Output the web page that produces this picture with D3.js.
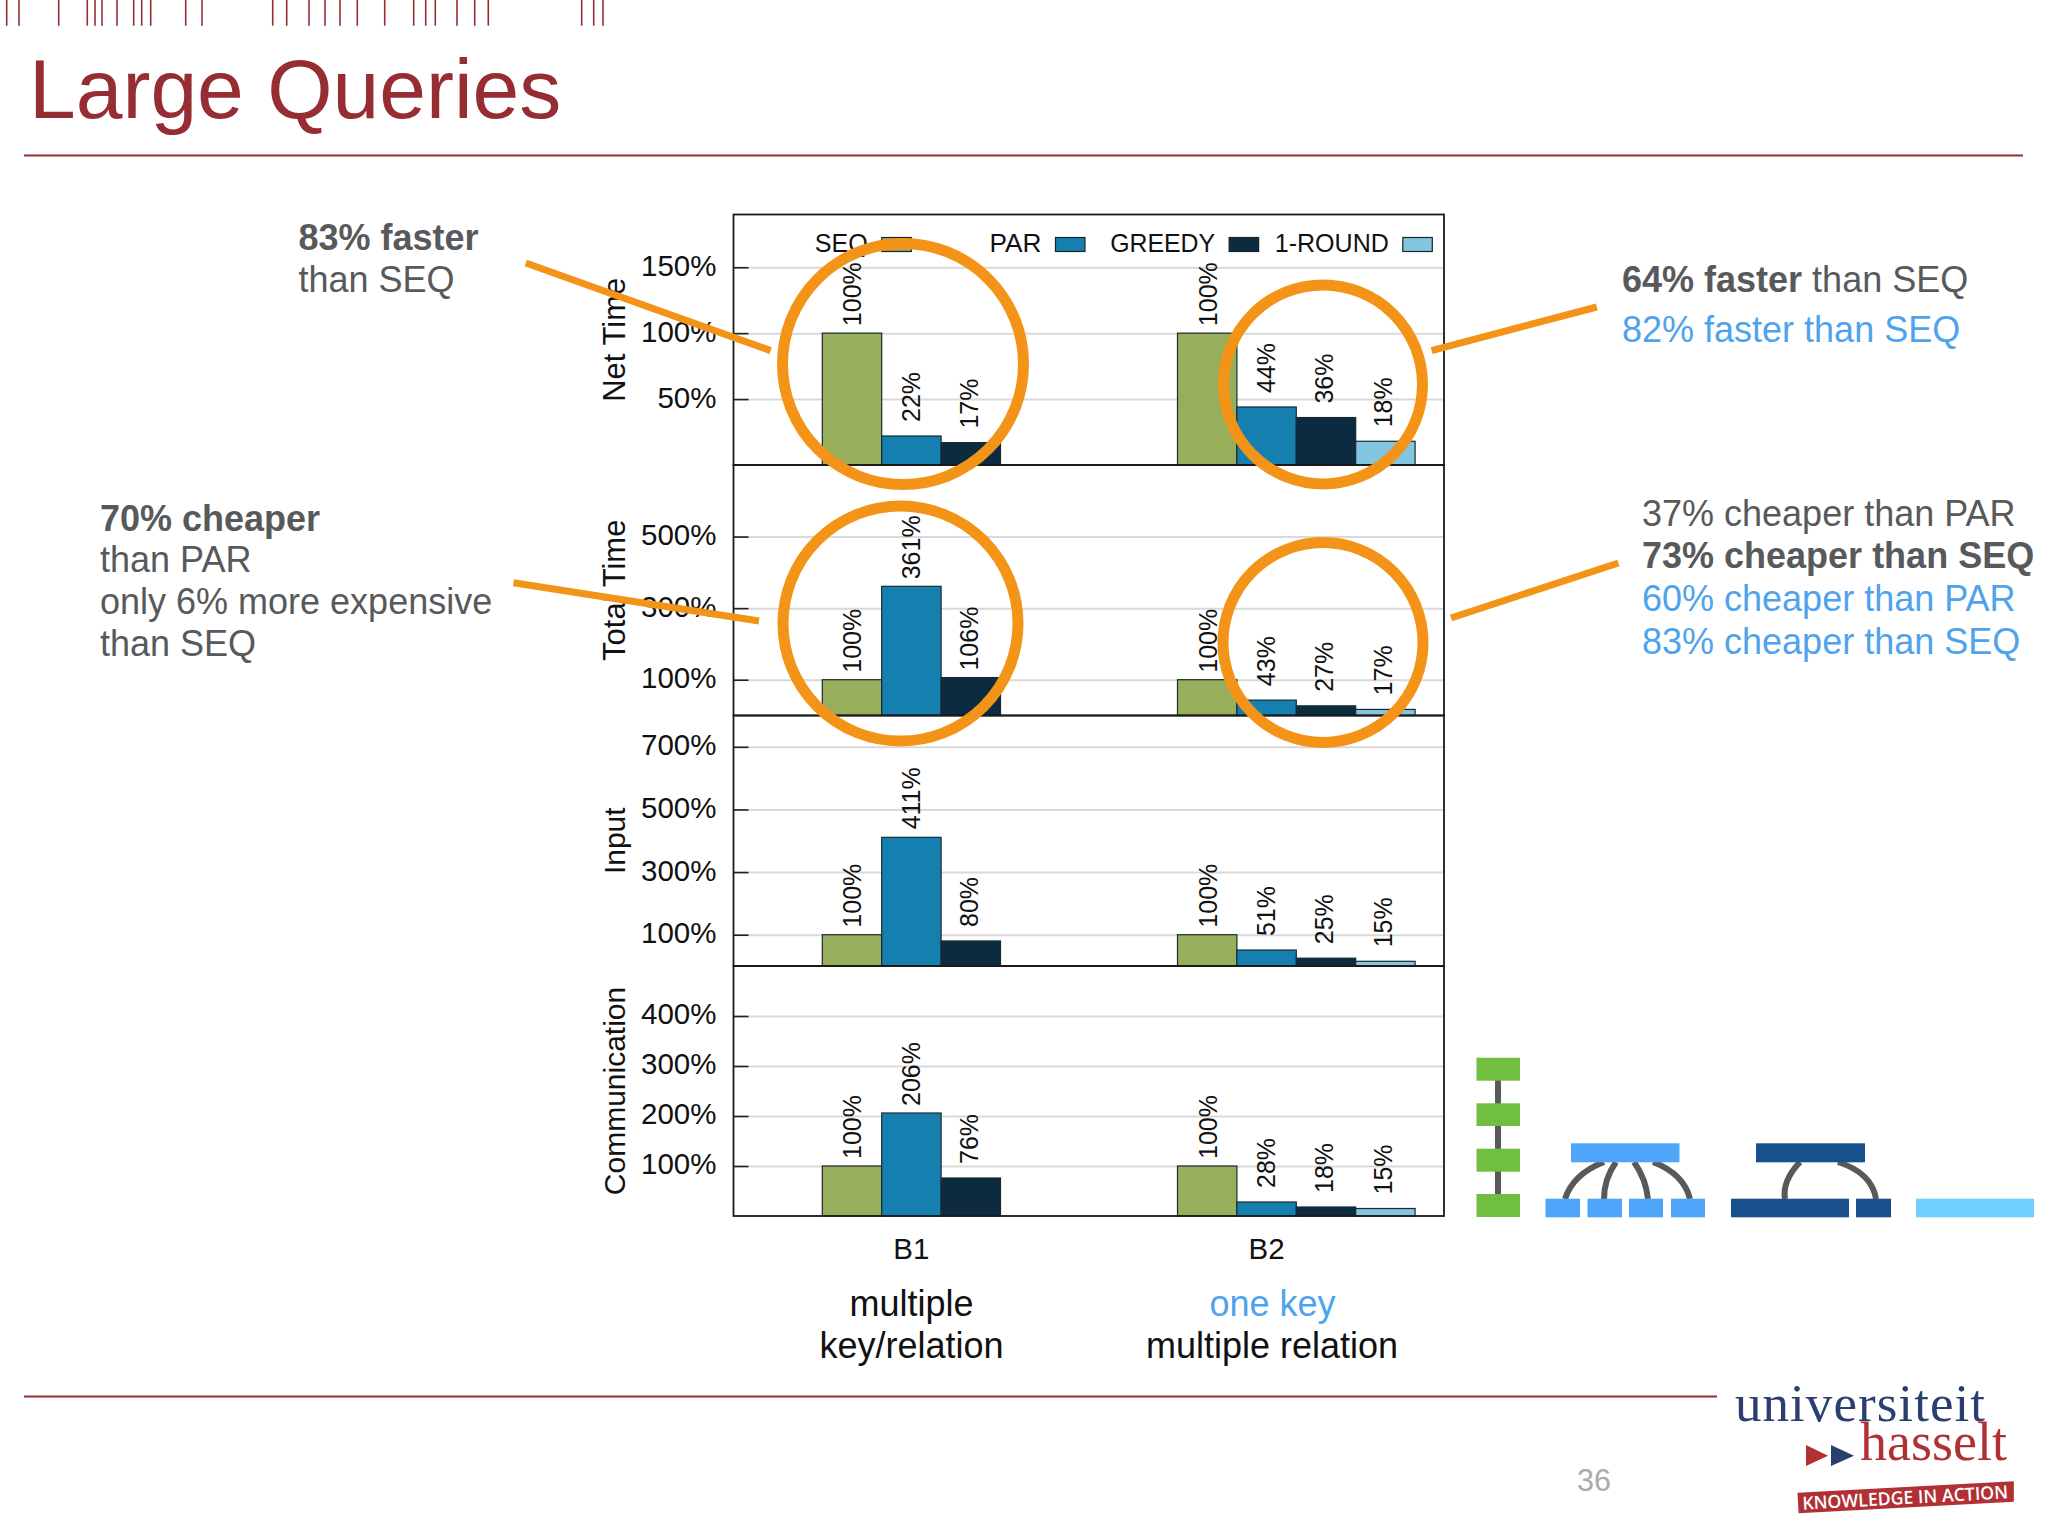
<!DOCTYPE html>
<html><head><meta charset="utf-8">
<script src="https://cdn.jsdelivr.net/npm/d3@7/dist/d3.min.js"></script>
<style>html,body{margin:0;padding:0;background:#fff}svg{display:block}text{font-family:"Liberation Sans",Arial,sans-serif}</style>
</head><body>
<script>
const groups = ["B1","B2"];
const seriesNames = ["SEQ","PAR","GREEDY","1-ROUND"];
const seriesColors = ["#97AE5A","#1580B0","#0C2B40","#84C5E0"];
const panelNames = ["Net Time","Total Time","Input","Communication"];
const panelTitleSizes = [31,31,30,30];
const panelMax = [190,700,800,500];
const panelTicks = [[50,100,150],[100,300,500],[100,300,500,700],[100,200,300,400]];
const netTimeB1 = [100,22,17,null];
const netTimeB2 = [100,44,36,18];
const totalTimeB1 = [100,361,106,null];
const totalTimeB2 = [100,43,27,17];
const inputB1 = [100,411,80,null];
const inputB2 = [100,51,25,15];
const commB1 = [100,206,76,null];
const commB2 = [100,28,18,15];
const panelValues = [[netTimeB1,netTimeB2],[totalTimeB1,totalTimeB2],[inputB1,inputB2],[commB1,commB2]];
const barcodeTicks = [6.7,19,58.7,87.3,95,102,117,133.7,141.7,150.7,185.7,202,272.7,286.7,309,325,340,357.3,384.7,413.7,425.7,435.3,457,474.7,488.3,581.7,593.7,603];

const RED="#962D32", GRAY="#58595B", BLUE="#4FA3EC", ORANGE="#F39419";
const svg=d3.select("body").append("svg").attr("width",2048).attr("height",1536);
svg.append("rect").attr("width",2048).attr("height",1536).attr("fill","#fff");

// header
svg.selectAll(".bc").data(barcodeTicks).join("line").attr("x1",d=>d).attr("x2",d=>d).attr("y1",0).attr("y2",25.7).attr("stroke",RED).attr("stroke-width",1.6);
svg.append("text").text("Large Queries").attr("x",29).attr("y",118).attr("font-size",84).attr("fill",RED);
svg.append("line").attr("x1",24).attr("x2",2023).attr("y1",155.5).attr("y2",155.5).attr("stroke",RED).attr("stroke-width",2);
svg.append("line").attr("x1",24).attr("x2",1717).attr("y1",1396.5).attr("y2",1396.5).attr("stroke",RED).attr("stroke-width",2);

// chart
const left=733.5,right=1444;
const edges=[214.5,465,715.5,966,1216];
const groupX=d3.scalePoint().domain(groups).range([822.3,1177.5]);
const barX=d3.scaleBand().domain(seriesNames).range([0,237.6]);
const labelX=d3.scalePoint().domain(seriesNames).range([30,205.2]);
const color=d3.scaleOrdinal(seriesNames,seriesColors);

panelNames.forEach((name,p)=>{
  const y=d3.scaleLinear().domain([0,panelMax[p]]).range([edges[p+1],edges[p]]);
  const g=svg.append("g");
  const grid=g.append("g").attr("transform",`translate(${left},0)`)
    .call(d3.axisLeft(y).tickValues(panelTicks[p]).tickSize(-(right-left)).tickFormat(""));
  grid.select(".domain").remove();
  grid.selectAll("line").attr("stroke","#D9D9D9").attr("stroke-width",2);
  groups.forEach((gr,gi)=>{
    const rows=seriesNames.map((s,i)=>({s,v:panelValues[p][gi][i]})).filter(d=>d.v!==null);
    g.selectAll(null).data(rows).join("rect")
      .attr("x",d=>groupX(gr)+barX(d.s)).attr("width",barX.bandwidth())
      .attr("y",d=>y(d.v)).attr("height",d=>y(0)-y(d.v))
      .attr("fill",d=>color(d.s)).attr("stroke","#1a2a30").attr("stroke-width",1.2);
    g.selectAll(null).data(rows).join("text")
      .text(d=>d.v+"%")
      .attr("transform",d=>`translate(${groupX(gr)+labelX(d.s)},${y(d.v)-39}) rotate(-90)`)
      .attr("text-anchor","middle").attr("dominant-baseline","central")
      .attr("font-size",25).attr("fill","#111");
  });
  const ax=g.append("g").attr("transform",`translate(${left},0)`)
    .call(d3.axisLeft(y).tickValues(panelTicks[p]).tickSize(-15).tickPadding(17).tickFormat(d=>d+"%"));
  ax.select(".domain").remove();
  ax.selectAll("line").attr("stroke","#222").attr("stroke-width",1.6);
  ax.selectAll("text").attr("font-size",29.5).attr("fill","#111").attr("y",-1.5).attr("font-family","Liberation Sans");
  g.append("rect").attr("x",left).attr("y",edges[p]).attr("width",right-left).attr("height",edges[p+1]-edges[p])
    .attr("fill","none").attr("stroke","#1a1a1a").attr("stroke-width",1.8);
  g.append("text").text(name).attr("transform",`translate(614,${(edges[p]+edges[p+1])/2}) rotate(-90)`)
    .attr("text-anchor","middle").attr("dominant-baseline","central").attr("font-size",panelTitleSizes[p]).attr("fill","#111");
});

// legend
const legendX=d3.scalePoint().domain(seriesNames).range([881.8,1402.8]);
const legendLen={"SEQ":53,"PAR":52,"GREEDY":105,"1-ROUND":114};
seriesNames.forEach(s=>{
  svg.append("rect").attr("x",legendX(s)).attr("y",237.5).attr("width",29.5).attr("height",14)
    .attr("fill",color(s)).attr("stroke","#222").attr("stroke-width",1.2);
  svg.append("text").text(s).attr("x",legendX(s)-14).attr("y",252).attr("text-anchor","end")
    .attr("font-size",26).attr("fill","#111").attr("textLength",legendLen[s]).attr("lengthAdjust","spacingAndGlyphs");
});

// x labels
groups.forEach(g=>{
  svg.append("text").text(g).attr("x",groupX(g)+barX.bandwidth()*1.5).attr("y",1258.5).attr("text-anchor","middle").attr("font-size",29.5).attr("fill","#111");
});
const caption=(t,x,y,fill)=>svg.append("text").text(t).attr("x",x).attr("y",y).attr("text-anchor","middle").attr("font-size",36).attr("fill",fill);
caption("multiple",911.5,1316,"#111");
caption("key/relation",911.5,1358,"#111");
caption("one key",1272.5,1316,BLUE);
caption("multiple relation",1272,1358,"#111");

// notes
const note=(t,x,y,fill,bold)=>svg.append("text").text(t).attr("x",x).attr("y",y).attr("font-size",36).attr("fill",fill).attr("font-weight",bold?700:400);
note("83% faster",298.5,250,GRAY,true);
note("than SEQ",298.5,291.5,GRAY);
note("70% cheaper",100,531,GRAY,true);
note("than PAR",100,572,GRAY);
note("only 6% more expensive",100,614,GRAY);
note("than SEQ",100,656,GRAY);
const t64=svg.append("text").attr("x",1622).attr("y",291.5).attr("font-size",36).attr("fill",GRAY);
t64.append("tspan").text("64% faster").attr("font-weight",700);
t64.append("tspan").text(" than SEQ");
note("82% faster than SEQ",1622,341.5,BLUE);
note("37% cheaper than PAR",1642,525.5,GRAY);
note("73% cheaper than SEQ",1642,568,GRAY,true);
note("60% cheaper than PAR",1642,611,BLUE);
note("83% cheaper than SEQ",1642,654,BLUE);

// orange highlights
[[903,364,120.5],[900.5,623.5,117.5],[1323,384.4,99.5],[1323,642.5,100]].forEach(c=>
  svg.append("circle").attr("cx",c[0]).attr("cy",c[1]).attr("r",c[2]).attr("fill","none").attr("stroke",ORANGE).attr("stroke-width",11));
[[525.8,263,770.7,350.6],[513.4,582.8,759,621],[1431.6,350.6,1596.8,307],[1451,618,1618.4,563]].forEach(l=>
  svg.append("line").attr("x1",l[0]).attr("y1",l[1]).attr("x2",l[2]).attr("y2",l[3]).attr("stroke",ORANGE).attr("stroke-width",7));

// query shapes
const box=(x0,x1,y0,y1,f)=>svg.append("rect").attr("x",x0).attr("y",y0).attr("width",x1-x0).attr("height",y1-y0).attr("fill",f);
const curve=d=>svg.append("path").attr("d",d).attr("fill","none").attr("stroke",GRAY).attr("stroke-width",6);
svg.append("line").attr("x1",1498).attr("x2",1498).attr("y1",1070).attr("y2",1205).attr("stroke",GRAY).attr("stroke-width",6);
[[1057.7,1080.7],[1103.3,1126],[1148.7,1171.7],[1194,1217]].forEach(r=>box(1476.5,1520,r[0],r[1],"#70BF41"));
curve("M1604,1162 Q1573,1174 1565,1199");
curve("M1616,1162 Q1604,1179 1604,1199");
curve("M1634,1162 Q1646,1179 1648,1199");
curve("M1653,1162 Q1684,1174 1690,1199");
const LB="#4EA5F9",DB="#17508B";
box(1571,1679.5,1143.3,1162.3,LB);
[[1545.5,1580],[1587.5,1622],[1629,1663],[1671,1705]].forEach(r=>box(r[0],r[1],1198.7,1217.3,LB));
curve("M1800,1162 Q1782,1181 1785,1199");
curve("M1838,1162 Q1872,1173 1876,1199");
box(1756,1865,1143.3,1162.3,DB);
box(1731,1849,1198.7,1217.3,DB);
box(1856,1891,1198.7,1217.3,DB);
box(1916,2034,1198.7,1217.3,"#6FD0FD");

// page number + logo
svg.append("text").text("36").attr("x",1577).attr("y",1491).attr("font-size",30.5).attr("fill","#ABABAB");
svg.append("text").text("universiteit").attr("x",1735).attr("y",1421).attr("font-size",53).attr("fill","#2A3F6F").attr("textLength",250).attr("lengthAdjust","spacing").style("font-family","Liberation Serif");
svg.append("text").text("hasselt").attr("x",1860).attr("y",1460).attr("font-size",54).attr("fill","#B03034").attr("textLength",147).attr("lengthAdjust","spacing").style("font-family","Liberation Serif");
svg.append("path").attr("d","M1806,1445L1828,1455.7L1806,1466Z").attr("fill","#B03034");
svg.append("path").attr("d","M1831,1445L1854,1455.7L1831,1466Z").attr("fill","#2A3F6F");
svg.append("path").attr("d","M1797.5,1492.7L2013.8,1481.3L2013.8,1501.7L1798.6,1513.3Z").attr("fill","#B03034");
svg.append("text").text("KNOWLEDGE IN ACTION").attr("transform","translate(1905.5,1504) rotate(-3.2)").attr("text-anchor","middle").attr("font-size",18).attr("font-weight",600).attr("fill","#fff").attr("textLength",206).attr("lengthAdjust","spacingAndGlyphs").style("font-family","Open Sans");
</script>
</body></html>
